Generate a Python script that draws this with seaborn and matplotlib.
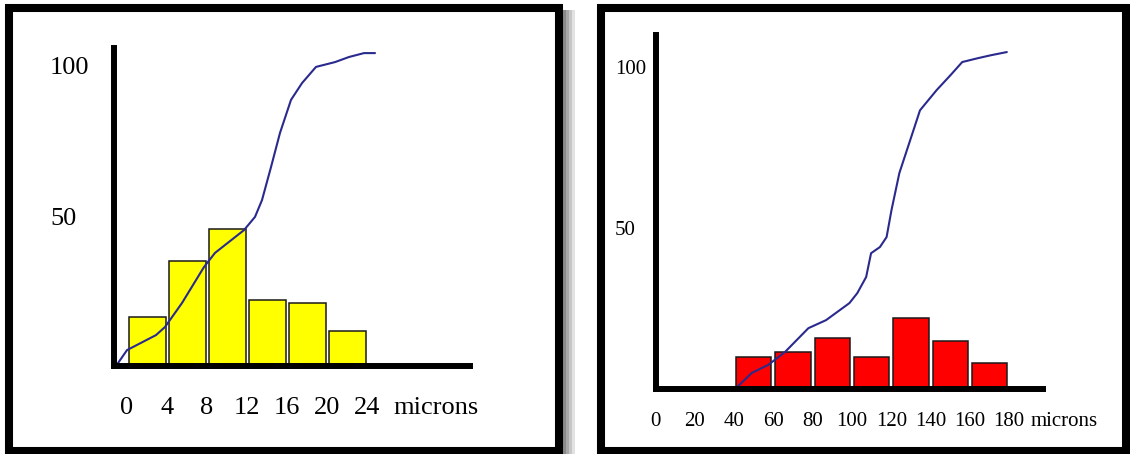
import matplotlib
matplotlib.use("Agg")
import matplotlib.pyplot as plt
import seaborn as sns
from matplotlib.patches import Rectangle

# ---------------- data ----------------
# Left panel (0-24 microns)
left_bin_centers = [2, 6, 10, 14, 18, 22]
left_bar_heights = [16.3, 35.0, 45.7, 22.0, 21.0, 11.7]
left_cum_x = [-1.1, 0.0, 2.9, 3.8, 5.5, 7.7, 8.8, 11.7, 12.8, 13.5, 14.4,
              15.3, 16.4, 17.5, 18.9, 20.8, 22.2, 23.7, 24.8]
left_cum_y = [0.0, 5.3, 10.3, 13.0, 21.0, 33.0, 37.7, 45.3, 49.7, 55.3, 66.3,
              77.7, 88.7, 94.3, 99.7, 101.3, 103.0, 104.3, 104.3]
left_xticks = [0, 4, 8, 12, 16, 20, 24]
left_yticks = [50, 100]

# Right panel (0-180 microns)
right_bin_centers = [50, 70, 90, 110, 130, 150, 170]
right_bar_heights = [9.9, 11.5, 15.8, 9.9, 22.0, 14.9, 8.1]
right_cum_x = [40.5, 49.0, 57.4, 65.9, 77.8, 86.8, 98.7, 102.7, 107.2, 109.7,
               114.2, 117.6, 120.1, 124.1, 129.6, 134.6, 143.1, 150.1, 156.1,
               164.1, 170.6, 178.8]
right_cum_y = [0.0, 5.0, 7.5, 11.5, 18.9, 21.4, 26.7, 29.8, 34.8, 42.2, 44.1,
               47.2, 55.6, 67.1, 77.3, 86.6, 92.9, 97.5, 101.6, 102.8, 103.7,
               104.7]
right_xticks = [0, 20, 40, 60, 80, 100, 120, 140, 160, 180]
right_yticks = [50, 100]

unit_label = "microns"

# ---------------- style ----------------
sns.set_theme(style="white")
plt.rcParams["font.family"] = ["Liberation Serif", "DejaVu Serif"]
plt.rcParams["text.color"] = "black"

W, H = 1130, 454
fig = plt.figure(figsize=(W / 100, H / 100), dpi=100)
fig.patch.set_facecolor("white")


def fx(px):
    return px / W


def fy(py):
    return 1 - py / H


# outer frames and shadow
for x0, x1 in [(9, 559), (601, 1126)]:
    fig.patches.append(Rectangle((fx(x0), fy(451)), fx(x1 - x0), (451 - 8) / H,
                                 transform=fig.transFigure, fill=False,
                                 edgecolor="black", linewidth=5.8,
                                 joinstyle="miter", zorder=5))
for i, g in enumerate(["#8a8a8a", "#a8a8a8", "#c6c6c6", "#e2e2e2"]):
    fig.patches.append(Rectangle((fx(563 + 3 * i), 0), fx(3), fy(10),
                                 transform=fig.transFigure, facecolor=g,
                                 edgecolor="none", zorder=4))


def panel(rect_px, xlim, ylim, centers, heights, width, color, cx, cy,
          xticks, yticks, fs, xpad, ypad, unit_dx):
    l, r, t, b = rect_px
    ax = fig.add_axes([fx(l), fy(b), fx(r - l), (b - t) / H])
    ax.set_facecolor("none")
    sns.barplot(x=centers, y=heights, native_scale=True, width=width,
                color=color, saturation=1, edgecolor="#1a1a1a",
                linewidth=1.1, errorbar=None, ax=ax)
    sns.lineplot(x=cx, y=cy, sort=False, estimator=None, color="#2a2a8e",
                 linewidth=1.5, ax=ax)
    ax.set_xlim(*xlim)
    ax.set_ylim(*ylim)
    ax.set_xlabel("")
    ax.set_ylabel("")
    for s in ["top", "right"]:
        ax.spines[s].set_visible(False)
    for s in ["left", "bottom"]:
        ax.spines[s].set_linewidth(4.3)
        ax.spines[s].set_color("black")
    ax.set_xticks(xticks, [str(v) for v in xticks])
    ax.set_yticks(yticks, [str(v) for v in yticks])
    ax.tick_params(axis="x", length=0, pad=xpad, labelsize=fs,
                   labelcolor="black")
    ax.tick_params(axis="y", length=0, pad=ypad, labelsize=fs,
                   labelcolor="black")
    for lbl in ax.get_yticklabels():
        lbl.set_horizontalalignment("left")
    ax.annotate(unit_label, xy=(1, 0), xycoords="axes fraction",
                xytext=(unit_dx, -xpad), textcoords="offset points",
                ha="left", va="top", fontsize=fs, color="black",
                annotation_clip=False)
    return ax


# left panel: px rect (left, right, top, bottom)
panel((113.5, 470, 48, 366), (-1.35, 34.3), (0, 106),
      left_bin_centers, left_bar_heights, 0.925, "#ffff00",
      left_cum_x, left_cum_y, left_xticks, left_yticks,
      fs=19, xpad=22.3, ypad=45.7, unit_dx=-55.4)

# right panel
panel((655.5, 1043, 35, 389), (4.4, 197.2), (0, 110),
      right_bin_centers, right_bar_heights, 0.9, "#ff0000",
      right_cum_x, right_cum_y, right_xticks, right_yticks,
      fs=15, xpad=16.6, ypad=29.2, unit_dx=-8.6)

fig.savefig("out.png", dpi=100, facecolor="white")
